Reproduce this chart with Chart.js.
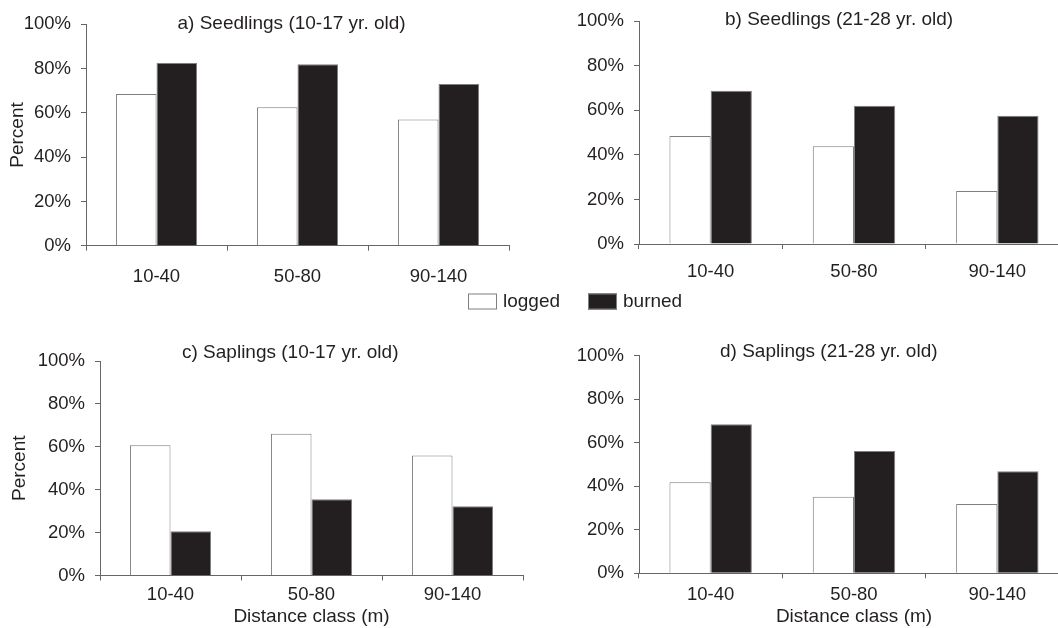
<!DOCTYPE html>
<html>
<head>
<meta charset="utf-8">
<title>Seedlings and saplings by distance class</title>
<script src="https://cdn.jsdelivr.net/npm/chart.js@4.4.1/dist/chart.umd.min.js"></script>
<style>
  html, body { margin: 0; padding: 0; background: #fff; overflow: hidden; }
  body { width: 1058px; height: 628px; position: relative; }
  canvas { position: absolute; }
</style>
</head>
<body>
<canvas id="panelA" width="700" height="320" style="left:0;top:0"></canvas>
<canvas id="panelB" width="540" height="320" style="left:529px;top:0"></canvas>
<canvas id="panelC" width="529" height="308" style="left:0;top:320px"></canvas>
<canvas id="panelD" width="540" height="308" style="left:529px;top:320px"></canvas>
<script>
// ---- Data ------------------------------------------------------------------
const categories = ["10-40", "50-80", "90-140"];
const seriesNames = ["logged", "burned"];
const yTickValues = [0, 20, 40, 60, 80, 100];

const seedlingsYoungLogged = [68.5, 62.5, 57];
const seedlingsYoungBurned = [82.5, 82, 73];
const seedlingsOldLogged   = [48.4, 43.9, 23.8];
const seedlingsOldBurned   = [68.8, 62, 57.5];
const saplingsYoungLogged  = [60.7, 66.1, 55.9];
const saplingsYoungBurned  = [20.6, 35.6, 32.3];
const saplingsOldLogged    = [41.8, 35.2, 31.8];
const saplingsOldBurned    = [68.5, 56.2, 46.9];

// ---- Look ------------------------------------------------------------------
const INK  = "#231f20";
const EDGE = "#7f7f7f";
const AXIS = "#666666";
const FONT = "'Liberation Sans', Arial, Helvetica, sans-serif";

Chart.defaults.font.family = FONT;
Chart.defaults.color = INK;

// panel caption drawn at the top of the plot area
const panelTitle = {
  id: "panelTitle",
  afterDraw(chart, args, opts) {
    if (!opts || !opts.text) return;
    const { ctx, chartArea } = chart;
    ctx.save();
    ctx.font = `19px ${FONT}`;
    ctx.fillStyle = INK;
    ctx.textAlign = "left";
    ctx.textBaseline = "middle";
    ctx.fillText(opts.text, chartArea.left + opts.dx, chartArea.top + opts.dy);
    ctx.restore();
  }
};

// one legend for all four panels, drawn from the datasets of panel a
const sharedLegend = {
  id: "sharedLegend",
  afterDraw(chart, args, opts) {
    if (!opts || !opts.boxX) return;
    const { ctx } = chart;
    ctx.save();
    ctx.font = `19px ${FONT}`;
    ctx.textBaseline = "middle";
    ctx.textAlign = "left";
    chart.data.datasets.forEach((ds, i) => {
      const x = opts.boxX[i];
      ctx.fillStyle = ds.backgroundColor;
      ctx.fillRect(x, opts.boxY, opts.boxW, opts.boxH);
      ctx.strokeStyle = EDGE;
      ctx.lineWidth = 1;
      ctx.strokeRect(x + 0.5, opts.boxY + 0.5, opts.boxW - 1, opts.boxH - 1);
      ctx.fillStyle = INK;
      ctx.fillText(ds.label, x + opts.boxW + 6, opts.boxY + opts.boxH / 2 + 0.5);
    });
    ctx.restore();
  }
};

Chart.register(panelTitle, sharedLegend);

// ---- Panels ----------------------------------------------------------------
const makePanel = (id, p) => new Chart(document.getElementById(id), {
  type: "bar",
  data: {
    labels: categories,
    datasets: [
      { label: seriesNames[0], data: p.logged, backgroundColor: "#ffffff", borderColor: EDGE, borderWidth: 1 },
      { label: seriesNames[1], data: p.burned, backgroundColor: INK, borderColor: EDGE, borderWidth: 1 }
    ]
  },
  options: {
    responsive: false,
    animation: false,
    layout: { padding: { top: p.top, right: p.right, left: 0, bottom: 0 } },
    datasets: { bar: { categoryPercentage: 0.575, barPercentage: 1 } },
    plugins: {
      legend: { display: false },
      tooltip: { enabled: false },
      panelTitle: { text: p.title, dx: p.titleDx, dy: p.titleDy },
      sharedLegend: p.legend || false
    },
    scales: {
      x: {
        grid: { drawOnChartArea: false, drawTicks: true, tickLength: 5, color: AXIS },
        border: { color: AXIS, width: 1 },
        ticks: { padding: p.xPad, color: INK, font: { size: 18.5 } },
        title: p.xTitle
          ? { display: true, text: p.xTitle, color: INK, font: { size: 19 }, padding: { top: 0, bottom: 0 } }
          : { display: false },
        afterFit: (s) => { s.height = p.xH; }
      },
      y: {
        min: 0,
        max: 100,
        afterBuildTicks: (s) => { s.ticks = yTickValues.map((v) => ({ value: v })); },
        grid: { drawOnChartArea: false, drawTicks: true, tickLength: 5, color: AXIS },
        border: { color: AXIS, width: 1 },
        ticks: { padding: 10, color: INK, font: { size: 18.5 }, callback: (v) => v + "%" },
        title: p.yTitle
          ? { display: true, text: p.yTitle, color: INK, font: { size: 19 }, padding: { top: p.yTitlePad, bottom: 0 } }
          : { display: false },
        afterFit: (s) => { s.width = p.yW; }
      }
    }
  }
});

makePanel("panelA", {
  logged: seedlingsYoungLogged, burned: seedlingsYoungBurned,
  title: "a) Seedlings (10-17 yr. old)", titleDx: 91.5, titleDy: -0.6,
  top: 24.3, right: 191, yW: 86, xH: 74.3, xPad: 15.2,
  yTitle: "Percent", yTitlePad: 6.2,
  legend: { boxX: [468, 588], boxY: 293.5, boxW: 29, boxH: 16 }
});

makePanel("panelB", {
  logged: seedlingsOldLogged, burned: seedlingsOldBurned,
  title: "b) Seedlings (21-28 yr. old)", titleDx: 86, titleDy: -1,
  top: 21, right: 0, yW: 110, xH: 76, xPad: 11.6
});

makePanel("panelC", {
  logged: saplingsYoungLogged, burned: saplingsYoungBurned,
  title: "c) Saplings (10-17 yr. old)", titleDx: 82, titleDy: -8,
  top: 41, right: 6, yW: 100, xH: 52.5, xPad: 3.4,
  yTitle: "Percent", yTitlePad: 8.5,
  xTitle: "Distance class (m)"
});

makePanel("panelD", {
  logged: saplingsOldLogged, burned: saplingsOldBurned,
  title: "d) Saplings (21-28 yr. old)", titleDx: 81, titleDy: -4,
  top: 35.7, right: 0, yW: 110, xH: 54.7, xPad: 5.6,
  xTitle: "Distance class (m)"
});
</script>
</body>
</html>
